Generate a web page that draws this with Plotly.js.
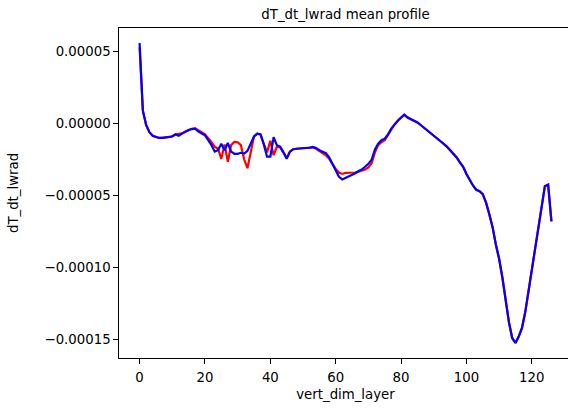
<!DOCTYPE html>
<html>
<head>
<meta charset="utf-8">
<script src="https://cdn.plot.ly/plotly-3.0.1.min.js"></script>
<style>
html,body{margin:0;padding:0;overflow:hidden;background:#fff;}
#chart{width:572px;height:412px;}
</style>
</head>
<body>
<div id="chart"></div>
<script>
// values in units of 1e-5
var blueVals = [
 5.6, 0.9, -0.1, -0.6, -0.85, -0.95, -1.0, -1.0, -0.98, -0.95,
 -0.9, -0.75, -0.85, -0.7, -0.55, -0.45, -0.38, -0.35, -0.55, -0.7,
 -0.82, -1.15, -1.5, -1.95, -1.85, -1.4, -1.85, -1.35, -1.95, -2.1,
 -2.1, -2.03, -2.08, -1.9, -1.35, -0.9, -0.7, -0.75, -1.45, -2.3,
 -2.3, -0.95, -1.5, -1.6, -2.0, -2.45, -1.95, -1.78, -1.75, -1.73,
 -1.73, -1.72, -1.68, -1.62, -1.7, -1.85, -1.97, -2.05, -2.35, -2.8,
 -3.3, -3.7, -3.88, -3.78, -3.7, -3.55, -3.45, -3.3, -3.2, -3.0,
 -2.8, -2.5, -1.8, -1.4, -1.15, -1.05, -0.75, -0.35, -0.05, 0.2,
 0.42, 0.62, 0.42, 0.32, 0.2, 0.08, -0.1, -0.28, -0.45, -0.65,
 -0.82, -1.0, -1.2, -1.4, -1.6, -1.85, -2.1, -2.35, -2.7, -3.0,
 -3.5, -3.92, -4.3, -4.6, -4.7, -4.9, -5.5, -6.3, -7.2, -8.4,
 -9.4, -10.7, -12.2, -13.8, -14.9, -15.25, -14.8, -14.2, -13.1, -11.6,
 -10.2, -8.7, -7.2, -5.7, -4.35, -4.25, -6.8
];
var redVals = [
 5.3, 0.9, -0.1, -0.6, -0.85, -0.95, -1.0, -1.0, -0.98, -0.93,
 -0.88, -0.75, -0.72, -0.68, -0.55, -0.45, -0.36, -0.33, -0.45, -0.6,
 -0.75, -1.0, -1.3, -1.6, -1.75, -2.45, -1.45, -2.65, -1.5, -1.27,
 -1.3, -1.5, -2.5, -3.1, -2.0, -0.9, -0.7, -0.75, -1.4, -2.0,
 -1.2, -2.2, -1.6, -1.65, -2.0, -2.4, -1.95, -1.78, -1.75, -1.73,
 -1.73, -1.72, -1.7, -1.66, -1.75, -1.9, -2.05, -2.2, -2.45, -2.85,
 -3.15, -3.4, -3.5, -3.42, -3.42, -3.45, -3.4, -3.35, -3.3, -3.2,
 -3.05, -2.75, -2.0, -1.5, -1.3, -1.15, -0.8, -0.38, -0.05, 0.2,
 0.42, 0.62, 0.42, 0.32, 0.2, 0.08, -0.1, -0.28, -0.45, -0.65,
 -0.82, -1.0, -1.2, -1.4, -1.6, -1.85, -2.1, -2.35, -2.7, -3.0,
 -3.5, -3.92, -4.3, -4.6, -4.7, -4.9, -5.5, -6.3, -7.2, -8.4,
 -9.4, -10.7, -12.2, -13.8, -14.9, -15.25, -14.8, -14.2, -13.1, -11.6,
 -10.2, -8.7, -7.2, -5.7, -4.35, -4.25, -6.8
];
var layers = blueVals.map(function(_, i){ return i; });
var yTickVals = [-0.00015, -0.00010, -0.00005, 0, 0.00005];
var yTickText = ["\u22120.00015", "\u22120.00010", "\u22120.00005", "0.00000", "0.00005"];
var xTickVals = [0, 20, 40, 60, 80, 100, 120];

var scale = 1e-5;
var blueY = blueVals.map(function(v){ return v * scale; });
var redY = redVals.map(function(v){ return v * scale; });

var all = blueY.concat(redY);
var ymin = Math.min.apply(null, all), ymax = Math.max.apply(null, all);
var ypad = (ymax - ymin) * 0.05;
var xmin = layers[0], xmax = layers[layers.length - 1];
var xpad = (xmax - xmin) * 0.05;

var font = {family: "DejaVu Sans", size: 13.3, color: "#000"};

var traces = [
  {x: layers, y: redY, type: "scatter", mode: "lines", line: {color: "#ff0000", width: 2.2}, hoverinfo: "skip"},
  {x: layers, y: blueY, type: "scatter", mode: "lines", line: {color: "#0000ff", width: 2.2}, hoverinfo: "skip"}
];

var layout = {
  width: 572, height: 412,
  margin: {l: 119, r: 0, t: 28, b: 54},
  paper_bgcolor: "#fff", plot_bgcolor: "#fff",
  showlegend: false,
  font: font,
  title: {text: "dT_dt_lwrad mean profile", font: font, x: 0.5, xref: "paper", xanchor: "center",
          y: 1, yref: "paper", yanchor: "bottom", pad: {b: 9}},
  xaxis: {
    range: [xmin - xpad, xmax + xpad],
    tickvals: xTickVals,
    ticks: "outside", ticklen: 4.7, tickwidth: 1, tickcolor: "#000",
    ticklabelstandoff: 2,
    showline: true, linecolor: "#000", linewidth: 1, mirror: true,
    showgrid: false, zeroline: false,
    tickfont: font,
    title: {text: "vert_dim_layer", font: font, standoff: 6},
    automargin: false
  },
  yaxis: {
    range: [ymin - ypad, ymax + ypad],
    tickvals: yTickVals, ticktext: yTickText,
    ticks: "outside", ticklen: 4.7, tickwidth: 1, tickcolor: "#000",
    showline: true, linecolor: "#000", linewidth: 1, mirror: true,
    showgrid: false, zeroline: false,
    tickfont: font,
    title: {text: "dT_dt_lwrad", font: font, standoff: 22},
    automargin: false
  }
};

Plotly.newPlot("chart", traces, layout, {staticPlot: true, displayModeBar: false});
</script>
</body>
</html>
